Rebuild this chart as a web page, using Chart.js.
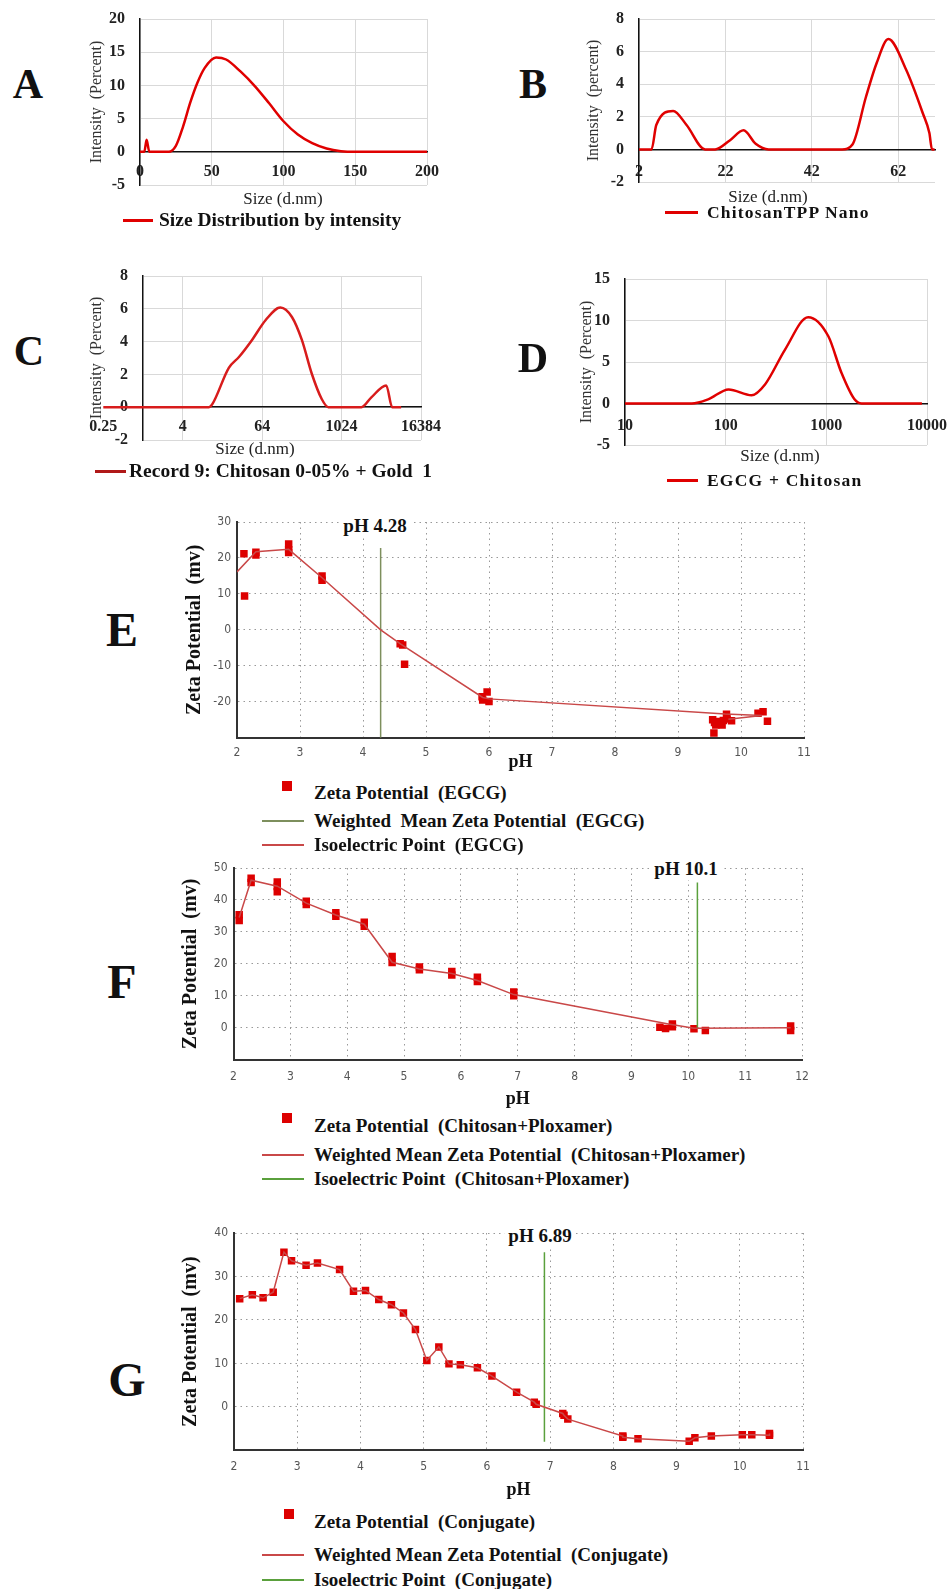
<!DOCTYPE html>
<html>
<head>
<meta charset="utf-8">
<script src="https://cdn.jsdelivr.net/npm/chart.js@4.4.1/dist/chart.umd.min.js"></script>
<style>
  body { margin: 0; background: #fff; }
  #page { position: relative; width: 950px; height: 1589px; overflow: hidden;
          font-family: "Liberation Serif", "Times New Roman", serif; color: #111; }
  canvas { position: absolute; }
  .t { position: absolute; white-space: nowrap; transform: translate(-50%, -50%); }
  .letter { font-weight: bold; font-size: 42px; }
  .big { font-size: 48px; }
  .xt { font-size: 17px; color: #222; }
  .lg { position: absolute; white-space: nowrap; font-weight: bold; font-size: 19.5px; transform: translateY(-50%); }
  .sp { font-size: 17.5px; letter-spacing: 1.2px; }
  .lg2 { font-size: 19px; }
  .sw { position: absolute; height: 2px; }
  .sq { position: absolute; width: 10px; height: 10px; background: #dd0000; }
  .iso { font-weight: bold; font-size: 19px; background: #fff; padding: 0 4px; }
</style>
</head>
<body>
<div id="page">
  <canvas id="chartA"></canvas>
  <canvas id="chartB"></canvas>
  <canvas id="chartC"></canvas>
  <canvas id="chartD"></canvas>
  <canvas id="chartE"></canvas>
  <canvas id="chartF"></canvas>
  <canvas id="chartG"></canvas>

  <!-- panel letters -->
  <div class="t letter" style="left:28px;top:84px">A</div>
  <div class="t letter" style="left:533px;top:84px">B</div>
  <div class="t letter" style="left:29px;top:351px">C</div>
  <div class="t letter" style="left:533px;top:358px">D</div>
  <div class="t letter big" style="left:122px;top:629px">E</div>
  <div class="t letter big" style="left:122px;top:981px">F</div>
  <div class="t letter big" style="left:127px;top:1379px">G</div>

  <!-- size distribution axis titles + legends -->
  <div class="t xt" style="left:283px;top:199px">Size (d.nm)</div>
  <div class="t xt" style="left:768px;top:197px">Size (d.nm)</div>
  <div class="t xt" style="left:255px;top:449px">Size (d.nm)</div>
  <div class="t xt" style="left:780px;top:456px">Size (d.nm)</div>

  <div class="sw" style="left:123px;top:219px;width:30px;height:2.5px;background:#e00000"></div>
  <div class="lg" style="left:159px;top:220px">Size Distribution by intensity</div>
  <div class="sw" style="left:665px;top:211px;width:33px;height:2.5px;background:#e00000"></div>
  <div class="lg sp" style="left:707px;top:212px">ChitosanTPP Nano</div>
  <div class="sw" style="left:95px;top:470px;width:31px;height:2.5px;background:#b01818"></div>
  <div class="lg" style="left:129px;top:471px">Record 9: Chitosan 0-05% + Gold&nbsp; 1</div>
  <div class="sw" style="left:667px;top:479px;width:31px;height:2.5px;background:#e00000"></div>
  <div class="lg sp" style="left:707px;top:480px">EGCG + Chitosan</div>

  <!-- isoelectric annotations -->
  <div class="t iso" style="left:375px;top:526px">pH 4.28</div>
  <div class="t iso" style="left:686px;top:869px">pH 10.1</div>
  <div class="t iso" style="left:540px;top:1236px">pH 6.89</div>

  <!-- zeta legends -->
  <div class="sq" style="left:282px;top:781px"></div>
  <div class="lg lg2" style="left:314px;top:793px">Zeta Potential&nbsp; (EGCG)</div>
  <div class="sw" style="left:262px;top:820px;width:42px;background:#7d8f5d"></div>
  <div class="lg lg2" style="left:314px;top:821px">Weighted&nbsp; Mean Zeta Potential&nbsp; (EGCG)</div>
  <div class="sw" style="left:262px;top:844px;width:42px;background:#c94848"></div>
  <div class="lg lg2" style="left:314px;top:845px">Isoelectric Point&nbsp; (EGCG)</div>

  <div class="sq" style="left:282px;top:1113px"></div>
  <div class="lg lg2" style="left:314px;top:1126px">Zeta Potential&nbsp; (Chitosan+Ploxamer)</div>
  <div class="sw" style="left:262px;top:1154px;width:42px;background:#c94848"></div>
  <div class="lg lg2" style="left:314px;top:1155px">Weighted Mean Zeta Potential&nbsp; (Chitosan+Ploxamer)</div>
  <div class="sw" style="left:262px;top:1178px;width:42px;background:#5aa03c"></div>
  <div class="lg lg2" style="left:314px;top:1179px">Isoelectric Point&nbsp; (Chitosan+Ploxamer)</div>

  <div class="sq" style="left:284px;top:1509px"></div>
  <div class="lg lg2" style="left:314px;top:1522px">Zeta Potential&nbsp; (Conjugate)</div>
  <div class="sw" style="left:262px;top:1554px;width:42px;background:#c94848"></div>
  <div class="lg lg2" style="left:314px;top:1555px">Weighted Mean Zeta Potential&nbsp; (Conjugate)</div>
  <div class="sw" style="left:262px;top:1579px;width:42px;background:#5aa03c"></div>
  <div class="lg lg2" style="left:314px;top:1580px">Isoelectric Point&nbsp; (Conjugate)</div>
</div>

<script>
// =========================
// Data
// =========================
// A - size distribution by intensity
const aSize = [0, 3, 4.6, 6.5, 20, 25, 30, 35, 40, 45, 53, 60, 70, 80, 90, 100, 110, 120, 130, 140, 150, 200];
const aIntensity = [0, 0, 1.8, 0, 0, 0.9, 3.8, 7.4, 10.4, 12.6, 14.2, 13.9, 12.1, 9.9, 7.3, 4.6, 2.6, 1.3, 0.5, 0.1, 0, 0];

// B - ChitosanTPP Nano
const bSize = [2, 4.9, 6.0, 9.9, 13, 17.3, 19.6, 23, 26.2, 29, 32, 49, 51.4, 54.5, 57, 59.7, 63.8, 67.7, 69.2, 69.8, 70.4];
const bIntensity = [0, 0, 1.5, 2.36, 1.5, 0, 0, 0.55, 1.17, 0.35, 0, 0, 0.3, 3.2, 5.3, 6.77, 4.9, 2.2, 1, 0, 0];
const bTicks = [2, 22, 42, 62];

// C - Record 9 (log2 size axis, y axis crosses at 1)
const cSize = [0.25, 10, 11.3, 20, 28.5, 45, 72, 121, 181, 256, 362, 512, 645, 2048, 2896, 4870, 5990, 8192];
const cIntensity = [0, 0, 0.2, 2.4, 3.06, 4.1, 5.3, 6.08, 5.5, 4.1, 2.04, 0.5, 0, 0, 0.6, 1.33, 0, 0];
const cTicks = [0.25, 4, 64, 1024, 16384];

// D - EGCG + Chitosan (log10 size axis)
const dSize = [10, 46, 67, 107, 181, 246, 389, 660, 1047, 1413, 1905, 2240, 8900];
const dIntensity = [0, 0, 0.5, 1.7, 1.0, 2.3, 6.5, 10.4, 8.1, 3.7, 0.5, 0, 0];
const dTicks = [10, 100, 1000, 10000];

// E - zeta potential EGCG
const ePh = [2.11, 2.12, 2.3, 2.3, 2.82, 2.82, 2.82, 3.35, 3.35, 4.59, 4.63, 4.66, 5.89, 5.9, 5.97, 6.0,
  9.55, 9.57, 9.58, 9.6, 9.65, 9.7, 9.72, 9.77, 9.78, 9.85, 10.27, 10.35, 10.42];
const eZeta = [21.2, 9.4, 21.6, 20.8, 23.9, 22.3, 21.5, 15, 13.8, -3.9, -4.2, -9.6, -18.6, -19.5, -17.3, -19.9,
  -25, -28.7, -25.8, -26.5, -25.5, -26.5, -25.2, -23.5, -24.8, -25.3, -23.2, -22.8, -25.4];
const eFitPh = [2.0, 2.3, 2.82, 3.35, 4.28, 4.6, 5.9, 6.0, 9.75, 10.33, 9.8];
const eFitZeta = [16.1, 21.7, 22.4, 14.5, 0, -4, -18.8, -19.2, -23.4, -23.8, -24.9];
const eIso = 4.28;
const eIsoRange = [22.8, -30];

// F - zeta potential Chitosan+Ploxamer
const fPh = [2.1, 2.1, 2.31, 2.31, 2.77, 2.77, 2.77, 3.28, 3.28, 3.8, 3.8, 4.3, 4.3, 4.79, 4.79, 5.27, 5.27,
  5.84, 5.84, 6.29, 6.29, 6.93, 6.93, 9.5, 9.6, 9.72, 9.72, 10.1, 10.3, 11.8, 11.8];
const fZeta = [33.6, 35.4, 45.5, 46.8, 42.6, 44.2, 45.6, 38.6, 39.6, 34.9, 36, 31.8, 33, 20.4, 22.3, 18.2, 19,
  16.5, 17.6, 14.5, 15.8, 10, 11.2, 0.2, -0.2, 0.3, 1.2, -0.3, -0.8, -0.8, 0.6];
const fLinePh = [2.1, 2.31, 2.77, 3.28, 3.8, 4.3, 4.79, 5.27, 5.84, 6.29, 6.93, 9.65, 10.1, 11.8];
const fLineZeta = [34.5, 46.2, 44.3, 39, 35.3, 32.4, 20.5, 18.4, 17, 14.8, 10.4, 1.2, -0.1, 0];
const fIso = 10.16;
const fIsoRange = [45.5, 0];

// G - zeta potential Conjugate
const gPh = [2.09, 2.29, 2.46, 2.62, 2.79, 2.91, 3.14, 3.32, 3.67, 3.89, 4.08, 4.29, 4.49, 4.68, 4.87, 5.05,
  5.24, 5.4, 5.58, 5.85, 6.08, 6.47, 6.75, 6.78, 7.2, 7.22, 7.28, 8.15, 8.15, 8.39, 9.2, 9.29, 9.55,
  10.04, 10.19, 10.47, 10.47];
const gZeta = [24.9, 25.8, 25.1, 26.4, 35.6, 33.6, 32.6, 33.1, 31.6, 26.6, 26.8, 24.7, 23.5, 21.6, 17.8, 10.7,
  13.8, 9.9, 9.7, 9.0, 7.1, 3.4, 1.1, 0.6, -1.5, -1.9, -2.8, -6.7, -7.0, -7.3, -7.9, -7.1, -6.7,
  -6.4, -6.4, -6.5, -6.1];
const gIso = 6.91;
const gIsoRange = [35.6, -8];

// =========================
// Helpers
// =========================
const serif = "'Liberation Serif', 'Times New Roman', serif";
const narrow = "'Liberation Sans Narrow', 'Arial Narrow', 'DejaVu Sans Condensed', 'Liberation Sans', sans-serif";
const red = "#dd0000";
const fitRed = "#c94848";

function pts(xs, ys) {
  return xs.map((x, i) => ({ x: x, y: ys[i] }));
}

function place(id, box) {
  const c = document.getElementById(id);
  c.width = Math.round(box.width);
  c.height = Math.round(box.height);
  c.style.left = box.left + "px";
  c.style.top = box.top + "px";
  return c;
}

// size distribution panel (A-D); canvas gets wide margins so label padding never moves the plot
function sizeChart(id, plot, titleX, o) {
  const box = {
    left: plot.left - 90,
    top: plot.top - 30,
    width: plot.right - plot.left + 135,
    height: plot.bottom - plot.top + 60,
  };
  const canvas = place(id, box);

  new Chart(canvas, {
    type: "scatter",
    data: {
      datasets: [
        {
          label: o.label,
          data: pts(o.xs, o.ys),
          showLine: true,
          borderColor: o.color || "#e00000",
          borderWidth: 2.5,
          pointRadius: 0,
          cubicInterpolationMode: "monotone",
          clip: false,
        },
      ],
    },
    options: {
      responsive: false,
      animation: false,
      layout: { padding: { left: 0, top: 30, right: box.width - 90 - (plot.right - plot.left), bottom: 30 } },
      plugins: { legend: { display: false }, tooltip: { enabled: false } },
      scales: {
        x: {
          type: o.xType,
          min: o.xMin,
          max: o.xMax,
          position: { y: 0 },
          afterBuildTicks: o.xTicks
            ? (s) => { s.ticks = o.xTicks.map((v) => ({ value: v })); }
            : undefined,
          ticks: {
            autoSkip: false,
            maxRotation: 0,
            stepSize: o.xStep,
            padding: o.xPad,
            color: "#222",
            font: { family: serif, size: 16, weight: "bold" },
            callback: (v) => String(v),
          },
          grid: {
            drawTicks: false,
            color: (ctx) => (ctx.tick && ctx.tick.value < o.xMin ? "rgba(0,0,0,0)" : "#d9d9d9"),
          },
          border: { color: "#111", width: 1.5 },
        },
        y: {
          type: "linear",
          min: o.yMin,
          max: o.yMax,
          position: "left",
          afterFit: (s) => { s.width = 90; },
          ticks: {
            stepSize: o.yStep,
            padding: 15,
            color: "#222",
            font: { family: serif, size: 16, weight: "bold" },
          },
          grid: { drawTicks: false, color: "#d9d9d9" },
          border: { color: "#111", width: 1.5 },
          title: {
            display: true,
            text: o.yTitle,
            color: "#333",
            font: { family: serif, size: 16 },
            padding: { top: titleX - box.left - 9.6, bottom: 0 },
          },
        },
      },
    },
  });
}

// zeta potential panel (E-G)
function zetaChart(id, plot, titleX, pHY, o) {
  const box = {
    left: titleX - 12,
    top: plot.top - 16,
    width: plot.right + 25 - (titleX - 12),
    height: pHY + 10.8 - (plot.top - 16),
  };
  const canvas = place(id, box);
  const yWidth = plot.left - box.left;
  const xHeight = box.top + box.height - plot.bottom;

  new Chart(canvas, {
    type: "scatter",
    data: { datasets: o.datasets },
    options: {
      responsive: false,
      animation: false,
      layout: { padding: { left: 0, top: 16, right: 25, bottom: 0 } },
      plugins: { legend: { display: false }, tooltip: { enabled: false } },
      scales: {
        x: {
          type: "linear",
          position: "bottom",
          min: o.xMin,
          max: o.xMax,
          afterFit: (s) => { s.height = xHeight; },
          ticks: { stepSize: 1, padding: o.xPad, color: "#555", font: { family: narrow, size: 12 } },
          grid: { drawTicks: false, color: "#999" },
          border: { color: "#333", width: 2, dash: [1.5, 4] },
          title: {
            display: true,
            text: "pH",
            color: "#111",
            font: { family: serif, size: 18, weight: "bold" },
            padding: 0,
          },
        },
        y: {
          type: "linear",
          min: o.yMin,
          max: o.yMax,
          afterFit: (s) => { s.width = yWidth; },
          ticks: {
            stepSize: 10,
            padding: 6,
            color: "#555",
            font: { family: narrow, size: 12 },
            callback: (v) => (v === o.yMin ? "" : v),
          },
          grid: { drawTicks: false, color: "#999" },
          border: { color: "#333", width: 2, dash: [1.5, 4] },
          title: {
            display: true,
            text: "Zeta Potential  (mv)",
            color: "#111",
            font: { family: serif, size: 20, weight: "bold" },
            padding: 0,
          },
        },
      },
    },
  });
}

function lineSet(label, xs, ys, color) {
  return { label: label, data: pts(xs, ys), showLine: true, borderColor: color, borderWidth: 1.5, pointRadius: 0 };
}

function pointSet(label, xs, ys) {
  return {
    label: label,
    data: pts(xs, ys),
    pointStyle: "rect",
    pointRadius: 5.3,
    backgroundColor: red,
    borderColor: red,
    borderWidth: 0,
  };
}

// =========================
// Size distribution panels
// =========================
sizeChart("chartA", { left: 140, top: 19, right: 427, bottom: 185 }, 97, {
  label: "Size Distribution by intensity", xs: aSize, ys: aIntensity,
  xType: "linear", xMin: 0, xMax: 200, xStep: 50, xPad: 10.4,
  yMin: -5, yMax: 20, yStep: 5, yTitle: "Intensity  (Percent)",
});

sizeChart("chartB", { left: 639, top: 19, right: 934.7, bottom: 181.7 }, 594, {
  label: "ChitosanTPP Nano", xs: bSize, ys: bIntensity,
  xType: "linear", xMin: 2, xMax: 70.5, xTicks: bTicks, xPad: 13,
  yMin: -2, yMax: 8, yStep: 2, yTitle: "Intensity  (percent)",
});

sizeChart("chartC", { left: 143.3, top: 276, right: 421.7, bottom: 440 }, 97, {
  label: "Record 9: Chitosan 0-05% + Gold  1", xs: cSize, ys: cIntensity, color: "#d81c1c",
  xType: "logarithmic", xMin: 1, xMax: 16384, xTicks: cTicks, xPad: 10.4,
  yMin: -2, yMax: 8, yStep: 2, yTitle: "Intensity  (Percent)",
});

sizeChart("chartD", { left: 625, top: 279.3, right: 926.7, bottom: 445 }, 586.7, {
  label: "EGCG + Chitosan", xs: dSize, ys: dIntensity,
  xType: "logarithmic", xMin: 10, xMax: 10000, xTicks: dTicks, xPad: 13,
  yMin: -5, yMax: 15, yStep: 5, yTitle: "Intensity  (Percent)",
});

// =========================
// Zeta potential panels
// =========================
zetaChart("chartE", { left: 237, top: 522.2, right: 804, bottom: 737.5 }, 195, 762, {
  xMin: 2, xMax: 11, yMin: -30, yMax: 30, xPad: 8,
  datasets: [
    lineSet("Isoelectric Point (EGCG)", eFitPh, eFitZeta, fitRed),
    lineSet("Weighted Mean Zeta Potential (EGCG)", [eIso, eIso], eIsoRange, "#7d8f5d"),
    pointSet("Zeta Potential (EGCG)", ePh, eZeta),
  ],
});

zetaChart("chartF", { left: 233, top: 868.3, right: 801, bottom: 1059.6 }, 190.5, 1099, {
  xMin: 2, xMax: 12, yMin: -10, yMax: 50, xPad: 10,
  datasets: [
    lineSet("Weighted Mean Zeta Potential (Chitosan+Ploxamer)", fLinePh, fLineZeta, fitRed),
    lineSet("Isoelectric Point (Chitosan+Ploxamer)", [fIso, fIso], fIsoRange, "#5aa03c"),
    pointSet("Zeta Potential (Chitosan+Ploxamer)", fPh, fZeta),
  ],
});

zetaChart("chartG", { left: 234, top: 1232.7, right: 803, bottom: 1450.2 }, 191, 1490, {
  xMin: 2, xMax: 11, yMin: -10, yMax: 40, xPad: 9.5,
  datasets: [
    lineSet("Weighted Mean Zeta Potential (Conjugate)", gPh, gZeta, fitRed),
    lineSet("Isoelectric Point (Conjugate)", [gIso, gIso], gIsoRange, "#5aa03c"),
    pointSet("Zeta Potential (Conjugate)", gPh, gZeta),
  ],
});
</script>
</body>
</html>
